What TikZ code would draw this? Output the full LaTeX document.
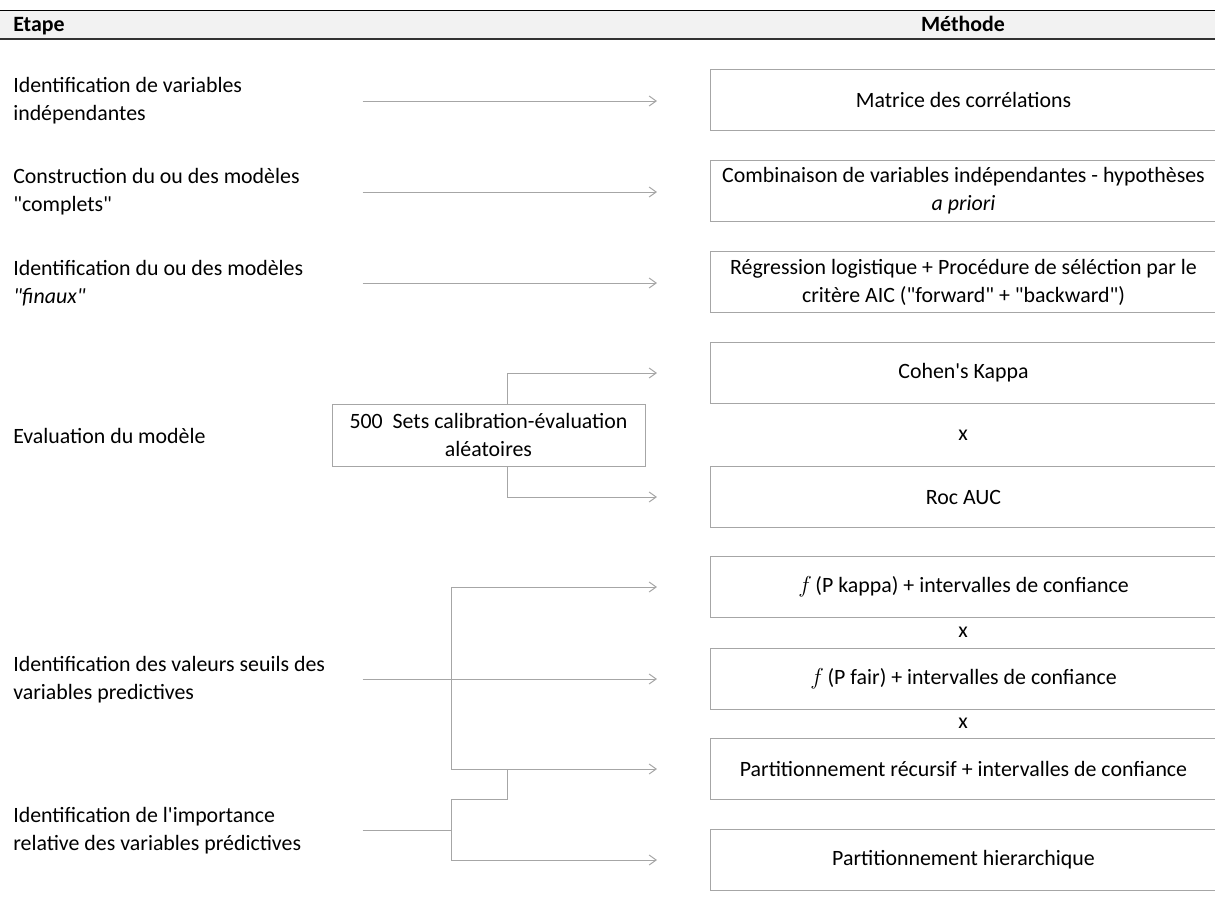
\documentclass[tikz,border=0pt]{standalone}
\usepackage{fontspec}
\setmainfont{Carlito}[Ligatures=TeXOff]
\usetikzlibrary{arrows.meta}
\definecolor{trait}{HTML}{A6A6A6}
\definecolor{entete}{HTML}{F2F2F2}
\newcommand{\taille}{\fontsize{16.4pt}{21pt}\selectfont}
\begin{document}
\begin{tikzpicture}[x=0.75pt, y=-0.75pt,
  every node/.style={font=\taille},
  etape/.style={anchor=west, align=flush left, text width=261.75pt, inner sep=0pt},
  methode/.style={draw=trait, line width=0.75pt, anchor=west, align=center, minimum width=379.5pt, minimum height=45.75pt, inner sep=2pt},
  lien/.style={draw=trait, line width=0.75pt, -{_[sep=2.25pt]Straight Barb[length=5.25pt, width=7.5pt]}, shorten >=39.75pt},
  trait seul/.style={draw=trait, line width=0.75pt}]
\useasboundingbox (0,0) rectangle (1215,915);
\fill[entete] (0,10) rectangle (1215,39);
\draw[line width=0.75pt] (0,10) -- (1215,10);
\draw[line width=1.5pt, black!80] (0,39) -- (1215,39);
\node[anchor=base west, inner sep=0pt, font=\taille\bfseries] (tetape) at (13,31) {Etape};
\node[anchor=base, inner sep=0pt, font=\taille\bfseries] (tmethode) at (963,31) {Méthode};

\node[etape] (s1) at (13,101) {Identification de variables\\ indépendantes};
\node[etape] (s2) at (13,192) {Construction du ou des modèles\\ "complets"};
\node[etape] (s3) at (13,283) {Identification du ou des modèles\\ \textit{"finaux"}};
\node[etape] (s4) at (13,436) {Evaluation du modèle};
\node[etape] (s5) at (13,680) {Identification des valeurs seuils des\\ variables predictives};
\node[etape] (s6) at (13,831) {Identification de l'importance\\ relative des variables prédictives};

\node[methode] (m1) at (710,100) {Matrice des corrélations};
\node[methode] (m2) at (710,191) {Combinaison de variables indépendantes - hypothèses\\ \textit{a priori}};
\node[methode] (m3) at (710,282) {Régression logistique + Procédure de séléction par le\\ critère AIC ("forward" + "backward")};
\node[methode] (m4) at (710,373) {Cohen's Kappa};
\node[methode] (m5) at (710,497) {Roc AUC};
\node[methode] (m6) at (710,587) {$f$\,(P kappa) + intervalles de confiance};
\node[methode] (m7) at (710,679) {$f$\,(P fair) + intervalles de confiance};
\node[methode] (m8) at (710,769) {Partitionnement récursif + intervalles de confiance};
\node[methode] (m9) at (710,860) {Partitionnement hierarchique};

\node (fois1) at (963,435) {x};
\node (fois2) at (963,632) {x};
\node (fois3) at (963,723) {x};

\node[draw=trait, line width=0.75pt, align=center, minimum width=234.75pt, minimum height=46.5pt, inner sep=2pt] (tirage) at (488.5,435) {500\ \ Sets calibration-évaluation\\ aléatoires};

\coordinate (tronc) at (507,435);
\coordinate (fourche) at (451,679);
\coordinate (fourche2) at (451,830);
\coordinate (coude) at (507,799);

\draw[lien] (s1.east) -- (s1.east -| m1.west);
\draw[lien] (s2.east) -- (s2.east -| m2.west);
\draw[lien] (s3.east) -- (s3.east -| m3.west);
\draw[lien] (tirage.north -| tronc) |- (m4);
\draw[lien] (tirage.south -| tronc) |- (m5);
\draw[lien] (fourche -| s5.east) -- (fourche -| m7.west);
\draw[lien] (fourche) |- (m6);
\draw[lien] (fourche) |- (m8);
\draw[trait seul] (fourche2 -| s6.east) -- (fourche2);
\draw[lien] (fourche2) |- (m9);
\draw[trait seul] (fourche2) |- (coude) -- (coude |- m8.west);
\end{tikzpicture}
\end{document}
